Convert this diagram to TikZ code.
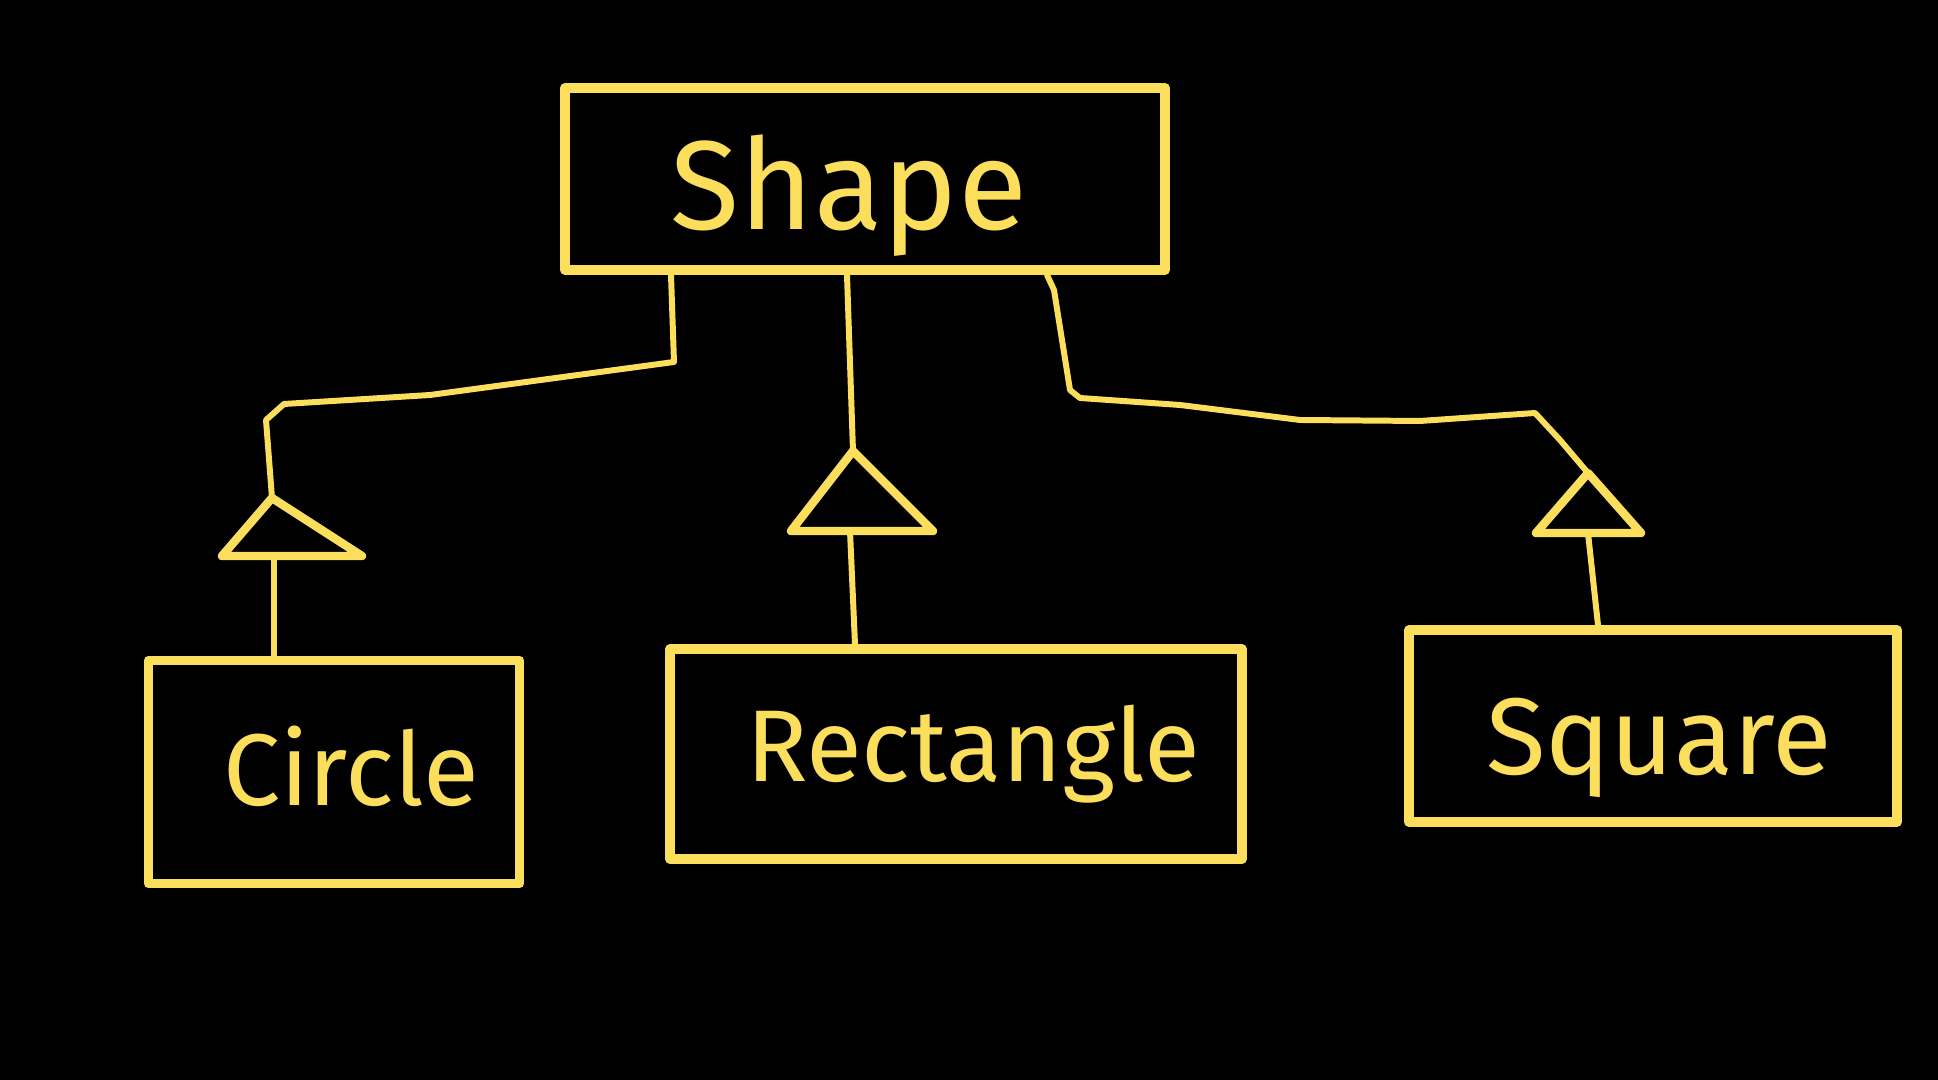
\documentclass[tikz,border=0pt]{standalone}
\usepackage{fontspec}
\setmainfont{Fira Sans}
\definecolor{chalk}{RGB}{250,222,92}
\begin{document}
\begin{tikzpicture}[x=0.01cm,y=-0.01cm,
  classbox/.style={draw=chalk,line width=2.8pt,rectangle,line join=round,text=chalk,inner sep=0pt},
  link/.style={draw=chalk,line width=1.7pt,line cap=round,line join=round},
  tri/.style={draw=chalk,line width=2.4pt,line cap=round,line join=round}]
\fill[black] (0,0) rectangle (1938,1080);
\useasboundingbox (0,0) rectangle (1938,1080);
% boxes
\node[classbox,minimum width=600*0.01cm,minimum height=182*0.01cm] (shape) at (865,179) {};
\node[classbox,minimum width=371*0.01cm,minimum height=223*0.01cm] (circle) at (334,772) {};
\node[classbox,minimum width=572*0.01cm,minimum height=210*0.01cm] (rect) at (956,754) {};
\node[classbox,minimum width=488*0.01cm,minimum height=192*0.01cm] (square) at (1653,726) {};
% labels
\node[text=chalk,font=\fontsize{36}{42}\selectfont] (tshape) at (849,196) {Shape};
\node[text=chalk,font=\fontsize{29}{35}\selectfont] (tcircle) at (351,766) {Circle};
\node[text=chalk,font=\fontsize{29}{35}\selectfont] (trect) at (973,754) {Rectangle};
\node[text=chalk,font=\fontsize{31}{37}\selectfont] (tsquare) at (1659,748) {Square};
% triangle corner coordinates
\coordinate (ca) at (272,498); \coordinate (cl) at (222,556); \coordinate (cr) at (362,556);
\coordinate (ra) at (853,451); \coordinate (rl) at (791,531); \coordinate (rr) at (933,531);
\coordinate (sa) at (1588,473); \coordinate (sl) at (1536,533); \coordinate (sr) at (1641,533);
\draw[tri] (ca) -- (cl) -- (cr) -- cycle;
\draw[tri] (ra) -- (rl) -- (rr) -- cycle;
\draw[tri] (sa) -- (sl) -- (sr) -- cycle;
% connectors
\draw[link] (shape.south -| 671,0) -- (674,362) -- (430,395) -- (284,404) -- (266,420) -- (ca);
\draw[link] (shape.south -| 847,0) -- (ra);
\draw[link] (shape.south -| 1047,0) -- (1054,290) -- (1070,390) -- (1080,398) -- (1180,405) -- (1300,420) -- (1420,421) -- (1535,413) -- (1560,440) -- (sa);
\draw[link] (274,556) -- (circle.north -| 274,0);
\draw[link] (850,531) -- (rect.north -| 855,0);
\draw[link] (1588,533) -- (square.north -| 1598,0);
\end{tikzpicture}
\end{document}
